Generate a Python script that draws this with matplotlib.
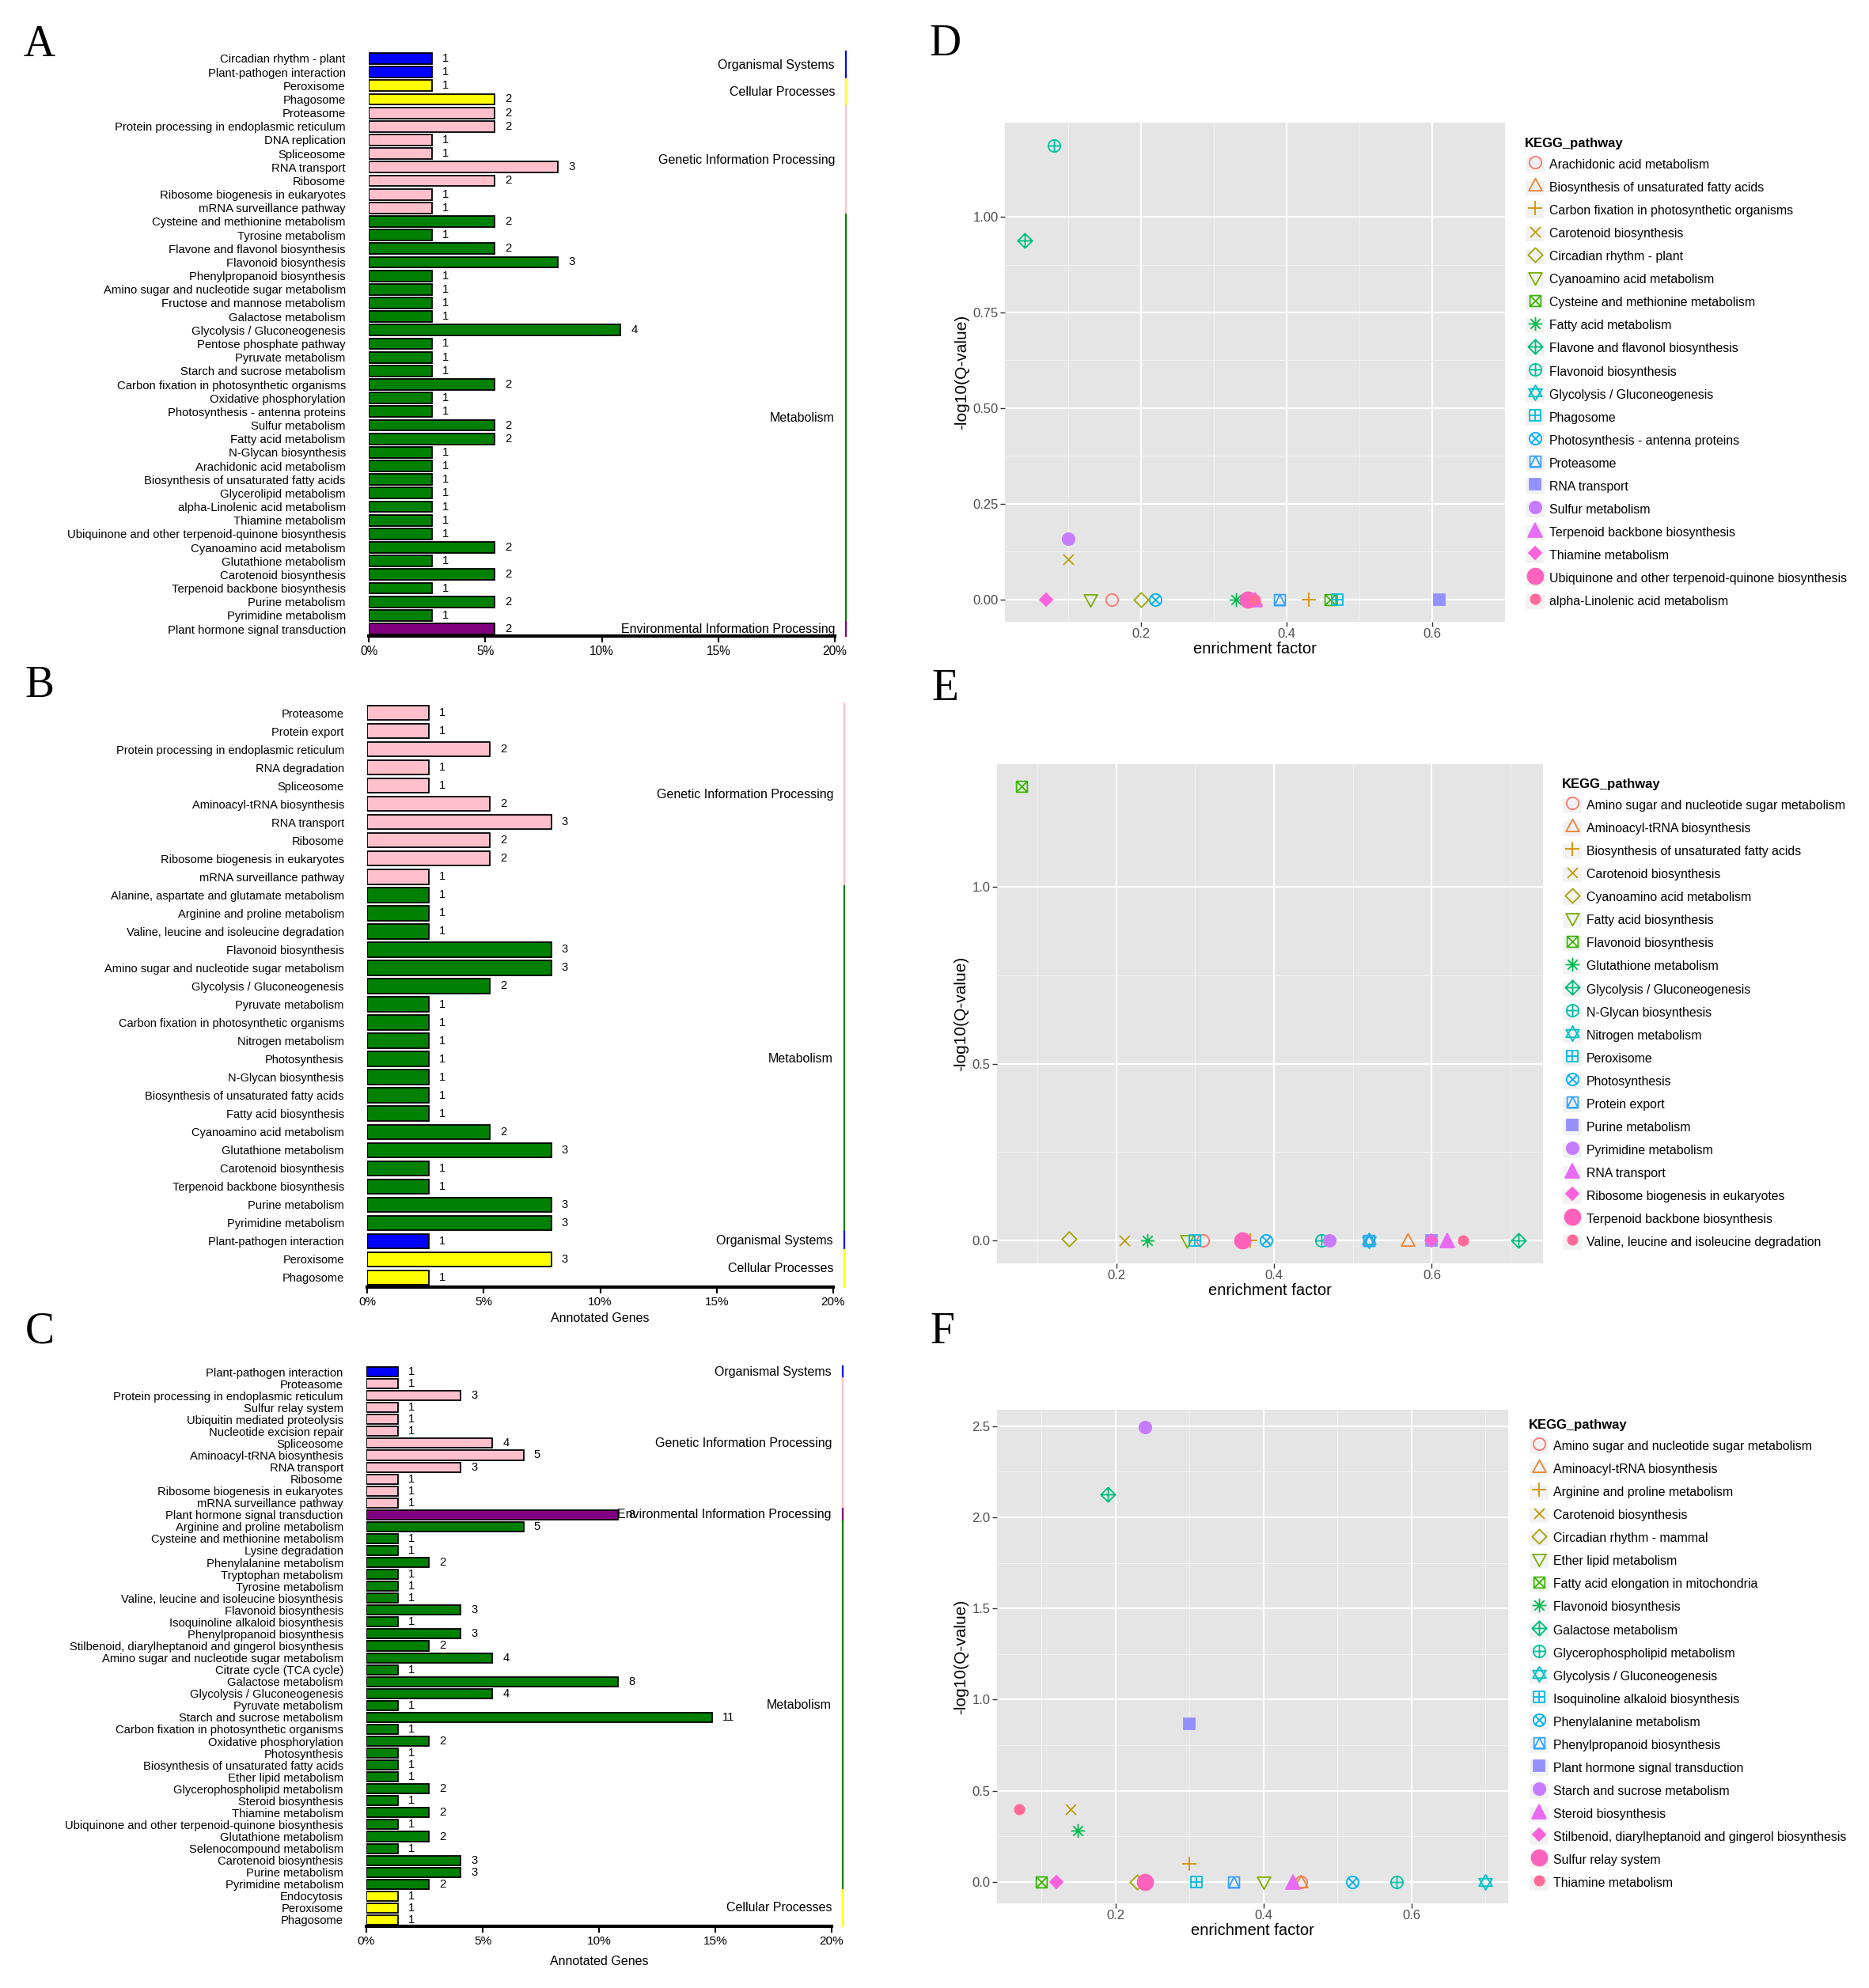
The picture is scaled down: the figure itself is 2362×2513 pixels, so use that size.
import numpy as np
import matplotlib
matplotlib.use("Agg")
import matplotlib.pyplot as plt
import matplotlib.transforms as mtransforms
from matplotlib.path import Path
from matplotlib.patches import Patch
from matplotlib.legend_handler import HandlerTuple

W, H = 2362, 2513
SANS = ["Liberation Sans", "DejaVu Sans"]
plt.rcParams["font.family"] = SANS

# ---------------- bar panels (A, B, C) ----------------
a_terms = ["Circadian rhythm - plant", "Plant-pathogen interaction", "Peroxisome", "Phagosome",
           "Proteasome", "Protein processing in endoplasmic reticulum", "DNA replication", "Spliceosome",
           "RNA transport", "Ribosome", "Ribosome biogenesis in eukaryotes", "mRNA surveillance pathway",
           "Cysteine and methionine metabolism", "Tyrosine metabolism", "Flavone and flavonol biosynthesis",
           "Flavonoid biosynthesis", "Phenylpropanoid biosynthesis", "Amino sugar and nucleotide sugar metabolism",
           "Fructose and mannose metabolism", "Galactose metabolism", "Glycolysis / Gluconeogenesis",
           "Pentose phosphate pathway", "Pyruvate metabolism", "Starch and sucrose metabolism",
           "Carbon fixation in photosynthetic organisms", "Oxidative phosphorylation",
           "Photosynthesis - antenna proteins", "Sulfur metabolism", "Fatty acid metabolism",
           "N-Glycan biosynthesis", "Arachidonic acid metabolism", "Biosynthesis of unsaturated fatty acids",
           "Glycerolipid metabolism", "alpha-Linolenic acid metabolism", "Thiamine metabolism",
           "Ubiquinone and other terpenoid-quinone biosynthesis", "Cyanoamino acid metabolism",
           "Glutathione metabolism", "Carotenoid biosynthesis", "Terpenoid backbone biosynthesis",
           "Purine metabolism", "Pyrimidine metabolism", "Plant hormone signal transduction"]
a_counts = [1, 1, 1, 2, 2, 2, 1, 1, 3, 2, 1, 1, 2, 1, 2, 3, 1, 1, 1, 1, 4, 1, 1, 1, 2, 1, 1, 2, 2,
            1, 1, 1, 1, 1, 1, 1, 2, 1, 2, 1, 2, 1, 2]
a_groups = [("Organismal Systems", 2), ("Cellular Processes", 2), ("Genetic Information Processing", 8),
            ("Metabolism", 30), ("Environmental Information Processing", 1)]
a_total = 37

b_terms = ["Proteasome", "Protein export", "Protein processing in endoplasmic reticulum", "RNA degradation",
           "Spliceosome", "Aminoacyl-tRNA biosynthesis", "RNA transport", "Ribosome",
           "Ribosome biogenesis in eukaryotes", "mRNA surveillance pathway",
           "Alanine, aspartate and glutamate metabolism", "Arginine and proline metabolism",
           "Valine, leucine and isoleucine degradation", "Flavonoid biosynthesis",
           "Amino sugar and nucleotide sugar metabolism", "Glycolysis / Gluconeogenesis", "Pyruvate metabolism",
           "Carbon fixation in photosynthetic organisms", "Nitrogen metabolism", "Photosynthesis",
           "N-Glycan biosynthesis", "Biosynthesis of unsaturated fatty acids", "Fatty acid biosynthesis",
           "Cyanoamino acid metabolism", "Glutathione metabolism", "Carotenoid biosynthesis",
           "Terpenoid backbone biosynthesis", "Purine metabolism", "Pyrimidine metabolism",
           "Plant-pathogen interaction", "Peroxisome", "Phagosome"]
b_counts = [1, 1, 2, 1, 1, 2, 3, 2, 2, 1, 1, 1, 1, 3, 3, 2, 1, 1, 1, 1, 1, 1, 1, 2, 3, 1, 1, 3, 3, 1, 3, 1]
b_groups = [("Genetic Information Processing", 10), ("Metabolism", 19), ("Organismal Systems", 1),
            ("Cellular Processes", 2)]
b_total = 38

c_terms = ["Plant-pathogen interaction", "Proteasome", "Protein processing in endoplasmic reticulum",
           "Sulfur relay system", "Ubiquitin mediated proteolysis", "Nucleotide excision repair", "Spliceosome",
           "Aminoacyl-tRNA biosynthesis", "RNA transport", "Ribosome", "Ribosome biogenesis in eukaryotes",
           "mRNA surveillance pathway", "Plant hormone signal transduction", "Arginine and proline metabolism",
           "Cysteine and methionine metabolism", "Lysine degradation", "Phenylalanine metabolism",
           "Tryptophan metabolism", "Tyrosine metabolism", "Valine, leucine and isoleucine biosynthesis",
           "Flavonoid biosynthesis", "Isoquinoline alkaloid biosynthesis", "Phenylpropanoid biosynthesis",
           "Stilbenoid, diarylheptanoid and gingerol biosynthesis", "Amino sugar and nucleotide sugar metabolism",
           "Citrate cycle (TCA cycle)", "Galactose metabolism", "Glycolysis / Gluconeogenesis",
           "Pyruvate metabolism", "Starch and sucrose metabolism", "Carbon fixation in photosynthetic organisms",
           "Oxidative phosphorylation", "Photosynthesis", "Biosynthesis of unsaturated fatty acids",
           "Ether lipid metabolism", "Glycerophospholipid metabolism", "Steroid biosynthesis",
           "Thiamine metabolism", "Ubiquinone and other terpenoid-quinone biosynthesis", "Glutathione metabolism",
           "Selenocompound metabolism", "Carotenoid biosynthesis", "Purine metabolism", "Pyrimidine metabolism",
           "Endocytosis", "Peroxisome", "Phagosome"]
c_counts = [1, 1, 3, 1, 1, 1, 4, 5, 3, 1, 1, 1, 8, 5, 1, 1, 2, 1, 1, 1, 3, 1, 3, 2, 4, 1, 8, 4, 1, 11,
            1, 2, 1, 1, 1, 2, 1, 2, 1, 2, 1, 3, 3, 2, 1, 1, 1]
c_groups = [("Organismal Systems", 1), ("Genetic Information Processing", 11),
            ("Environmental Information Processing", 1), ("Metabolism", 31), ("Cellular Processes", 3)]
c_total = 74

CLASS_COLORS = {"Organismal Systems": "#0000FF", "Cellular Processes": "#FFFF00",
                "Genetic Information Processing": "#FFC0CB", "Metabolism": "#008000",
                "Environmental Information Processing": "#800080"}

# ---------------- scatter panels (D, E, F) ----------------
d_names = ["Arachidonic acid metabolism", "Biosynthesis of unsaturated fatty acids",
           "Carbon fixation in photosynthetic organisms", "Carotenoid biosynthesis", "Circadian rhythm - plant",
           "Cyanoamino acid metabolism", "Cysteine and methionine metabolism", "Fatty acid metabolism",
           "Flavone and flavonol biosynthesis", "Flavonoid biosynthesis", "Glycolysis / Gluconeogenesis",
           "Phagosome", "Photosynthesis - antenna proteins", "Proteasome", "RNA transport", "Sulfur metabolism",
           "Terpenoid backbone biosynthesis", "Thiamine metabolism",
           "Ubiquinone and other terpenoid-quinone biosynthesis", "alpha-Linolenic acid metabolism"]
d_factor = [0.16, 0.356, 0.43, 0.10, 0.20, 0.13, 0.46, 0.33, 0.04, 0.08, 0.35, 0.47, 0.22, 0.39, 0.61,
            0.10, 0.356, 0.07, 0.347, 0.356]
d_q = [0, 0, 0, 0.106, 0, 0, 0, 0, 0.938, 1.186, 0, 0, 0, 0, 0, 0.160, 0, 0, 0, 0]

e_names = ["Amino sugar and nucleotide sugar metabolism", "Aminoacyl-tRNA biosynthesis",
           "Biosynthesis of unsaturated fatty acids", "Carotenoid biosynthesis", "Cyanoamino acid metabolism",
           "Fatty acid biosynthesis", "Flavonoid biosynthesis", "Glutathione metabolism",
           "Glycolysis / Gluconeogenesis", "N-Glycan biosynthesis", "Nitrogen metabolism", "Peroxisome",
           "Photosynthesis", "Protein export", "Purine metabolism", "Pyrimidine metabolism", "RNA transport",
           "Ribosome biogenesis in eukaryotes", "Terpenoid backbone biosynthesis",
           "Valine, leucine and isoleucine degradation"]
e_factor = [0.31, 0.57, 0.37, 0.21, 0.14, 0.29, 0.08, 0.24, 0.71, 0.46, 0.52, 0.30, 0.39, 0.52, 0.60,
            0.47, 0.62, 0.60, 0.36, 0.64]
e_q = [0, 0, 0, 0, 0.005, 0, 1.283, 0, 0, 0, 0, 0, 0, 0, 0, 0, 0, 0, 0, 0]

f_names = ["Amino sugar and nucleotide sugar metabolism", "Aminoacyl-tRNA biosynthesis",
           "Arginine and proline metabolism", "Carotenoid biosynthesis", "Circadian rhythm - mammal",
           "Ether lipid metabolism", "Fatty acid elongation in mitochondria", "Flavonoid biosynthesis",
           "Galactose metabolism", "Glycerophospholipid metabolism", "Glycolysis / Gluconeogenesis",
           "Isoquinoline alkaloid biosynthesis", "Phenylalanine metabolism", "Phenylpropanoid biosynthesis",
           "Plant hormone signal transduction", "Starch and sucrose metabolism", "Steroid biosynthesis",
           "Stilbenoid, diarylheptanoid and gingerol biosynthesis", "Sulfur relay system", "Thiamine metabolism"]
f_factor = [0.451, 0.451, 0.30, 0.14, 0.229, 0.40, 0.10, 0.149, 0.19, 0.58, 0.70, 0.31, 0.52, 0.36,
            0.30, 0.24, 0.44, 0.12, 0.24, 0.07]
f_q = [0, 0, 0.097, 0.399, 0, 0, 0, 0.281, 2.125, 0, 0, 0, 0, 0, 0.866, 2.495, 0, 0, 0, 0.397]

HUE20 = ["#F8766D", "#EA8331", "#D89000", "#C09B00", "#A3A500", "#7CAE00", "#39B600", "#00BB4E",
         "#00BF7D", "#00C1A3", "#00BFC4", "#00BAE0", "#00B0F6", "#35A2FF", "#9590FF", "#C77CFF",
         "#E76BF3", "#FA62DB", "#FF62BC", "#FF6A98"]

# ggplot-like shapes 1..20 built from paths
MV, LN, CL = Path.MOVETO, Path.LINETO, Path.CLOSEPOLY
r = 0.7071
circle = Path.unit_circle()
square = Path([(-1, -1), (1, -1), (1, 1), (-1, 1), (-1, -1)], [MV, LN, LN, LN, CL])
diamond = Path([(0, 1), (1, 0), (0, -1), (-1, 0), (0, 1)], [MV, LN, LN, LN, CL])
tri_up = Path([(0, 1), (0.95, -0.75), (-0.95, -0.75), (0, 1)], [MV, LN, LN, CL])
tri_dn = Path([(0, -1), (0.95, 0.75), (-0.95, 0.75), (0, -1)], [MV, LN, LN, CL])
plus = Path([(-1, 0), (1, 0), (0, -1), (0, 1)], [MV, LN, MV, LN])
cross_in = Path([(-r, -r), (r, r), (-r, r), (r, -r)], [MV, LN, MV, LN])
cross_sq = Path([(-1, -1), (1, 1), (-1, 1), (1, -1)], [MV, LN, MV, LN])
sq_tri = Path([(0, 1), (1, -1), (-1, -1), (0, 1)], [MV, LN, LN, CL])
star_up = Path([(0, 1), (0.87, -0.5), (-0.87, -0.5), (0, 1)], [MV, LN, LN, CL])
star_dn = Path([(0, -1), (0.87, 0.5), (-0.87, 0.5), (0, -1)], [MV, LN, LN, CL])
cmp = Path.make_compound_path
SHAPES = [(circle, False, 1.0), (tri_up, False, 1.15), (plus, False, 1.15), (cross_sq, False, 0.85),
          (diamond, False, 1.2), (tri_dn, False, 1.15), (cmp(square, cross_sq), False, 0.9),
          (cmp(plus, cross_in), False, 1.15), (cmp(diamond, plus), False, 1.2), (cmp(circle, plus), False, 1.0),
          (cmp(star_up, star_dn), False, 1.25), (cmp(square, plus), False, 0.9), (cmp(circle, cross_in), False, 1.0),
          (cmp(square, sq_tri), False, 0.9), ("s", True, 0.9), ("o", True, 1.0), ("^", True, 1.15),
          ("D", True, 0.75), ("o", True, 1.3), ("o", True, 0.8)]

fig = plt.figure(figsize=(W / 100, H / 100), dpi=100)


def px_rect(x0, y0, x1, y1):
    return [x0 / W, 1 - y1 / H, (x1 - x0) / W, (y1 - y0) / H]


def bar_panel(rect, terms, counts, groups, total, fs, cat_fs=11.5):
    ax = fig.add_axes(px_rect(*rect))
    classes = [name for name, n in groups for _ in range(n)]
    pct = np.array(counts) / total * 100
    ypos = np.arange(len(terms))
    ax.barh(ypos, pct, height=0.8, color=[CLASS_COLORS[c] for c in classes],
            edgecolor="black", linewidth=1.3)
    ax.set_xlim(0, 20)
    ax.set_ylim(len(terms) - 0.5, -0.5)
    ax.set_yticks(ypos, terms)
    ax.tick_params(axis="y", length=0, pad=21, labelsize=fs)
    ax.set_xticks([0, 5, 10, 15, 20], ["0%", "5%", "10%", "15%", "20%"])
    ax.tick_params(axis="x", length=6, width=1.5, labelsize=fs + 0.5, pad=3)
    for s in ["left", "right", "top"]:
        ax.spines[s].set_visible(False)
    ax.spines["bottom"].set_linewidth(3)
    for y, p, c in zip(ypos, pct, counts):
        ax.text(p + 0.45, y, str(c), va="center", ha="left", fontsize=fs)
    trans = mtransforms.blended_transform_factory(ax.transAxes, ax.transData)
    start = 0
    for name, n in groups:
        ax.plot([1.024, 1.024], [start - 0.5, start + n - 0.5], transform=trans,
                color=CLASS_COLORS[name], lw=1.6, clip_on=False)
        ax.text(1.0, start + (n - 1) / 2, name, transform=trans, ha="right", va="center", fontsize=cat_fs)
        start += n
    return ax


def scatter_panel(rect, names, xs, ys, xlim, ylim, yticks, yfmt, leg_xy):
    ax = fig.add_axes(px_rect(*rect))
    ax.set_facecolor("#E5E5E5")
    handles = []
    for i, (x, y) in enumerate(zip(xs, ys)):
        marker, filled, scale = SHAPES[i]
        col = HUE20[i]
        ln, = ax.plot([x], [y], ls="none", marker=marker, ms=11 * scale,
                      mfc=col if filled else "none", mec=col, mew=1.3, zorder=3)
        handles.append((Patch(facecolor="#F2F2F2", edgecolor="white"), ln))
    ax.set_xlim(*xlim)
    ax.set_ylim(*ylim)
    ax.set_xticks([0.2, 0.4, 0.6], ["0.2", "0.4", "0.6"])
    ax.set_xticks([0.1, 0.3, 0.5, 0.7], minor=True)
    ax.set_yticks(yticks, [yfmt.format(v) for v in yticks])
    ax.set_yticks(np.array(yticks[:-1]) + (yticks[1] - yticks[0]) / 2, minor=True)
    ax.grid(which="major", color="white", lw=1.6)
    ax.grid(which="minor", color="#F2F2F2", lw=0.8)
    ax.set_axisbelow(True)
    for s in ax.spines.values():
        s.set_visible(False)
    ax.tick_params(which="major", length=4, width=1, color="#333333", labelsize=12,
                   labelcolor="#4D4D4D", pad=2)
    ax.tick_params(which="minor", length=0)
    ax.set_xlabel("enrichment factor", fontsize=14.5, labelpad=1)
    ax.set_ylabel("-log10(Q-value)", fontsize=15, labelpad=3)
    ax.legend(handles, names, loc="upper left", bbox_to_anchor=(leg_xy[0] / W, 1 - leg_xy[1] / H),
              bbox_transform=fig.transFigure, frameon=False, title="KEGG_pathway", alignment="left",
              handlelength=1.6, handleheight=1.6, handletextpad=0.35, labelspacing=0.55,
              borderpad=0, borderaxespad=0, fontsize=11.4, numpoints=1,
              title_fontproperties={"weight": "bold", "size": 12},
              handler_map={tuple: HandlerTuple(ndivide=1, pad=0)})
    return ax


bar_panel((466, 65.4, 1055, 803.6), a_terms, a_counts, a_groups, a_total, 10.7)
ax_b = bar_panel((464, 889.5, 1053, 1626.5), b_terms, b_counts, b_groups, b_total, 10.5)
ax_b.set_xlabel("Annotated Genes", fontsize=11.5, labelpad=4)
ax_c = bar_panel((463, 1726.5, 1051, 2434.5), c_terms, c_counts, c_groups, c_total, 10.6)
ax_c.set_xlabel("Annotated Genes", fontsize=11.5, labelpad=8)

scatter_panel((1270, 155, 1902, 786), d_names, d_factor, d_q, (0.013, 0.638), (-0.058, 1.246),
              [0, 0.25, 0.5, 0.75, 1.0], "{:.2f}", (1927, 174))
scatter_panel((1260, 966, 1950, 1597), e_names, e_factor, e_q, (0.049, 0.741), (-0.064, 1.346),
              [0, 0.5, 1.0], "{:.1f}", (1974, 984))
scatter_panel((1260, 1782, 1906, 2406), f_names, f_factor, f_q, (0.040, 0.731), (-0.118, 2.59),
              [0, 0.5, 1.0, 1.5, 2.0, 2.5], "{:.1f}", (1932, 1794))

for letter, (lx, ly) in zip("ABCDEF", [(50, 57), (50, 867), (50, 1683), (1194, 56), (1194, 871), (1191, 1684)]):
    fig.text(lx / W, 1 - ly / H, letter, ha="center", va="center", fontsize=40,
             family=["Liberation Serif", "DejaVu Serif"])

fig.savefig("out.png", dpi=100, facecolor="white")
